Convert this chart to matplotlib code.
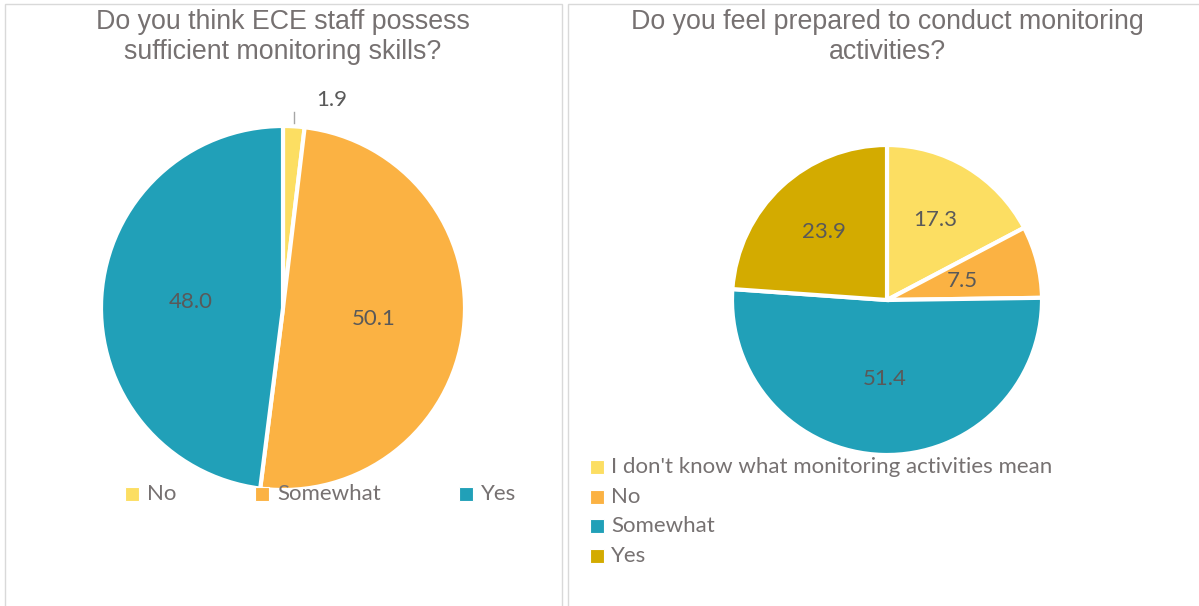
import matplotlib.pyplot as plt
import matplotlib.patches as mpatches
import numpy as np

# survey answers (percent)
skills_labels = ['No', 'Somewhat', 'Yes']
skills_values = [1.9, 50.1, 48.0]

prepared_labels = ["I don't know what monitoring activities mean", 'No', 'Somewhat', 'Yes']
prepared_values = [17.3, 7.5, 51.4, 23.9]

YELLOW = '#FCDE62'
ORANGE = '#FBB243'
TEAL = '#21A0B8'
GOLD = '#D3AB00'
TITLE_C = '#767171'
LABEL_C = '#595959'

W, H = 1199, 606
fig = plt.figure(figsize=(W / 100, H / 100), dpi=100)


def px_axes(cx, cy, r):
    # square axes in pixel coordinates, pie radius 1 fills it
    ax = fig.add_axes([(cx - r) / W, (H - cy - r) / H, 2 * r / W, 2 * r / H])
    ax.axis('off')
    return ax


def draw_pie(ax, values, colors, label_r):
    wedges, _ = ax.pie(values, colors=colors, startangle=90, counterclock=False,
                       radius=1, wedgeprops=dict(edgecolor='white', linewidth=3))
    # pie() pads the limits to 1.25, reset so the wedge fills the axes
    ax.set_xlim(-1, 1)
    ax.set_ylim(-1, 1)
    ax.set_aspect('equal')
    total = sum(values)
    start = 0
    mids = []
    for v, lr in zip(values, label_r):
        mid = np.deg2rad(90 - (start + v / 2) / total * 360)
        mids.append(mid)
        if lr is not None:
            ax.text(lr * np.cos(mid), lr * np.sin(mid), f'{v:.1f}', ha='center', va='center',
                    fontsize=16, color=LABEL_C, family='Lato')
        start += v
    return mids


# panel frames
for x0, x1 in [(5, 562), (568, 1210)]:
    fig.patches.append(mpatches.Rectangle((x0 / W, -0.05), (x1 - x0) / W, 1.05 - 4 / H,
                                          transform=fig.transFigure, fill=False,
                                          edgecolor='#D9D9D9', linewidth=1))

# left chart
ax1 = px_axes(283, 308, 182)
mids = draw_pie(ax1, skills_values, [YELLOW, ORANGE, TEAL], [None, 0.5, 0.51])
m = mids[0]
ax1.plot([1.02 * np.cos(m), 1.02 * np.cos(m)], [1.02 * np.sin(m), 1.08 * np.sin(m)],
         color='#A6A6A6', linewidth=1, clip_on=False)
ax1.text(0.27, 1.142, f'{skills_values[0]:.1f}', ha='center', va='center',
         fontsize=16, color=LABEL_C, family='Lato', clip_on=False)

fig.text(283 / W, 1 - 37 / H, 'Do you think ECE staff possess\nsufficient monitoring skills?',
         ha='center', va='center', fontsize=19.3, color=TITLE_C, family='Liberation Sans',
         linespacing=1.2)

legend_x = [125, 255, 459]
for x, lab, c in zip(legend_x, skills_labels, [YELLOW, ORANGE, TEAL]):
    fig.patches.append(mpatches.Rectangle((x / W, 1 - 501 / H), 14 / W, 14 / H,
                                          transform=fig.transFigure, facecolor=c,
                                          edgecolor='white', linewidth=0.8))
    fig.text((x + 22) / W, 1 - 494 / H, lab, ha='left', va='center', fontsize=16,
             color=TITLE_C, family='Lato')

# right chart
ax2 = px_axes(887, 300, 155)
draw_pie(ax2, prepared_values, [YELLOW, ORANGE, TEAL, GOLD], [0.6, 0.5, 0.51, 0.6])

fig.text(887 / W, 1 - 37 / H, 'Do you feel prepared to conduct monitoring\nactivities?',
         ha='center', va='center', fontsize=19.3, color=TITLE_C, family='Liberation Sans',
         linespacing=1.2)

for i, (lab, c) in enumerate(zip(prepared_labels, [YELLOW, ORANGE, TEAL, GOLD])):
    y = 467 + i * 29.7
    fig.patches.append(mpatches.Rectangle((590 / W, 1 - (y + 7) / H), 14 / W, 14 / H,
                                          transform=fig.transFigure, facecolor=c,
                                          edgecolor='white', linewidth=0.8))
    fig.text(611 / W, 1 - y / H, lab, ha='left', va='center', fontsize=16,
             color=TITLE_C, family='Lato')

fig.savefig('out.png', dpi=100)
